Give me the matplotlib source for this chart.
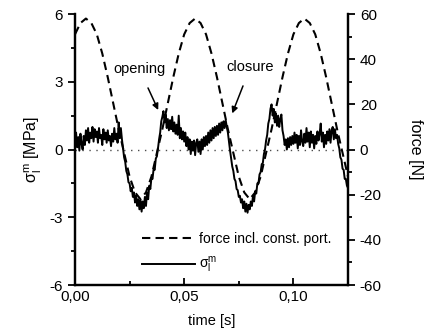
import numpy as np
import matplotlib
matplotlib.use('Agg')
import matplotlib.pyplot as plt
from matplotlib.ticker import MultipleLocator, FuncFormatter

plt.rcParams['font.family'] = ['Liberation Sans', 'DejaVu Sans']
plt.rcParams['mathtext.fontset'] = 'custom'
plt.rcParams['mathtext.rm'] = 'Liberation Sans'
plt.rcParams['mathtext.it'] = 'Liberation Sans:italic'
plt.rcParams['axes.unicode_minus'] = False

# Data
dt_stress = 0.0005   # s, sampling of the stress signal
stress = [
    0.4, 0.75, 0.1, 0.55, -0.05, 0.7, 0.25, 0.0, 0.6, 0.2,
    0.85, 0.4, 0.95, 0.3, 0.75, 0.5, 1.0, 0.35, 0.9, 0.55,
    0.8, 0.3, 0.95, 0.5, 0.65, 0.2, 0.9, 0.45, 0.75, 0.3,
    0.85, 0.4, 0.6, 0.15, 0.7, 0.35, 0.95, 0.45, 0.7, 0.3,
    1.2, 0.5, 0.95, 0.45, 0.05, -0.35, -0.55, -0.95, -1.1, -1.45,
    -1.5, -1.85, -1.7, -2.1, -1.9, -2.35, -2.05, -2.5, -2.2, -2.65,
    -2.25, -2.75, -2.3, -2.6, -2.1, -2.5, -1.9, -2.2, -1.6, -1.75,
    -1.25, -1.3, -0.85, -0.9, -0.4, -0.3, 0.05, 0.45, 0.75, 1.25,
    1.45, 1.7, 1.2, 1.55, 0.95, 1.35, 0.85, 1.3, 0.9, 1.45,
    0.8, 1.2, 0.7, 1.1, 0.65, 1.5, 0.5, 0.95, 0.45, 0.8,
    0.35, 0.75, 0.15, 0.55, 0.0, 0.45, -0.2, 0.35, -0.05, 0.4,
    -0.25, 0.3, 0.45, -0.1, 0.35, -0.2, 0.45, 0.0, 0.55, 0.15,
    0.6, 0.2, 0.75, 0.3, 0.85, 0.4, 0.95, 0.5, 1.0, 0.6,
    1.05, 0.65, 1.15, 0.75, 1.2, 0.85, 1.25, 0.95, 1.3, 1.0,
    0.75, 0.35, -0.05, -0.4, -0.75, -0.95, -1.3, -1.4, -1.75, -1.8,
    -2.1, -2.05, -2.35, -2.2, -2.6, -2.3, -2.75, -2.4, -2.8, -2.45,
    -2.65, -2.3, -2.5, -2.05, -2.3, -1.85, -1.95, -1.5, -1.5, -1.1,
    -1.0, -0.65, -0.6, -0.2, 0.0, 0.4, 0.65, 1.15, 1.35, 1.8,
    2.0, 1.5, 1.8, 1.2, 1.6, 1.05, 1.5, 1.0, 1.35, 1.55,
    0.85, 0.6, 0.2, 0.45, 0.0, 0.5, 0.1, 0.55, 0.2, 0.6,
    0.25, 0.75, 0.3, 0.65, 0.05, 0.6, 0.2, 0.85, 0.35, 0.15,
    0.7, 0.3, 0.95, 0.35, 0.75, 0.1, 0.8, 0.3, 0.65, 0.05,
    0.6, 0.25, 0.8, 0.4, 0.7, 1.15, 0.35, 0.75, 0.1, 0.65,
    0.25, 0.8, 0.4, 0.9, 0.3, 0.85, 1.0, 0.45, 0.9, 0.5,
    0.65, 0.25, 0.05, -0.35, -0.45, -0.85, -0.9, -1.3, -1.3, -1.6,
    -1.7,
]
dt_force = 0.0025   # s
force = [
    51, 56, 58, 56, 51, 42.5, 32, 20.5, 9, -1.5,
    -12, -19, -22, -19, -12, -1.5, 9, 20.5, 32, 42.5,
    51, 56, 58, 56, 51, 42.5, 32, 20.5, 9, -1.5,
    -12, -19, -22, -19, -12, -1.5, 9, 20.5, 32, 42.5,
    51, 56, 58, 56, 51, 42.5, 32, 20.5, 9, -1.5,
    -12,
]
t_stress = np.arange(len(stress)) * dt_stress
t_force = np.arange(len(force)) * dt_force

fig = plt.figure(figsize=(4.28, 3.34), dpi=100)
ax = fig.add_axes([0.1752, 0.1467, 0.6379, 0.8113])
ax2 = ax.twinx()

ax.axhline(0, color='0.3', lw=1.0, dashes=(1, 4))
l_stress, = ax.plot(t_stress, stress, color='black', lw=1.4)
l_force, = ax2.plot(t_force, force, color='black', lw=1.5, dashes=(4, 2.5))

ax.set_xlim(0, 0.125)
ax.set_ylim(-6, 6)
ax2.set_ylim(-60, 60)

for a in (ax, ax2):
    a.spines['top'].set_visible(False)
    for s in ('left', 'right', 'bottom'):
        a.spines[s].set_linewidth(1.6)

ax.xaxis.set_major_locator(MultipleLocator(0.05))
ax.xaxis.set_minor_locator(MultipleLocator(0.025))
ax.xaxis.set_major_formatter(FuncFormatter(lambda v, p: f'{v:.2f}'.replace('.', ',')))
ax.yaxis.set_major_locator(MultipleLocator(3))
ax.yaxis.set_minor_locator(MultipleLocator(1.5))
ax2.yaxis.set_major_locator(MultipleLocator(20))
ax2.yaxis.set_minor_locator(MultipleLocator(10))

ax.tick_params(axis='x', which='both', direction='in', labelsize=11, width=1.3)
ax.tick_params(axis='x', which='major', length=5)
ax.tick_params(axis='x', which='minor', length=3)
ax.tick_params(axis='y', which='both', direction='out', labelsize=11, width=1.3)
ax.tick_params(axis='y', which='major', length=5)
ax.tick_params(axis='y', which='minor', length=3)
ax2.tick_params(axis='y', which='both', direction='out', labelsize=11, width=1.3)
ax2.tick_params(axis='y', which='major', length=5)
ax2.tick_params(axis='y', which='minor', length=3)

ax.set_xlabel('time [s]', fontsize=10.5, labelpad=7)
ax.set_ylabel(r'$\mathrm{\sigma_l^m}$ [MPa]', fontsize=11.5, labelpad=4)
ax2.set_ylabel('force [N]', fontsize=11.5, rotation=270, labelpad=30)

ax2.annotate('opening', xy=(0.0381, 17.5), xytext=(0.0295, 35.5),
             fontsize=10.5, ha='center', va='center',
             arrowprops=dict(arrowstyle='-|>', color='black', lw=1.1,
                             mutation_scale=9, shrinkA=7, shrinkB=0))
ax2.annotate('closure', xy=(0.0720, 16.0), xytext=(0.0803, 36.5),
             fontsize=10.5, ha='center', va='center',
             arrowprops=dict(arrowstyle='-|>', color='black', lw=1.1,
                             mutation_scale=9, shrinkA=7, shrinkB=0))

ax2.legend([l_force, l_stress],
           ['force incl. const. port.', r'$\mathrm{\sigma_l^m}$'],
           loc='lower left', bbox_to_anchor=(0.2, -0.01), frameon=False,
           fontsize=10, handlelength=3.8, handletextpad=0.3, labelspacing=0.65)

fig.savefig('out.png', dpi=100)
